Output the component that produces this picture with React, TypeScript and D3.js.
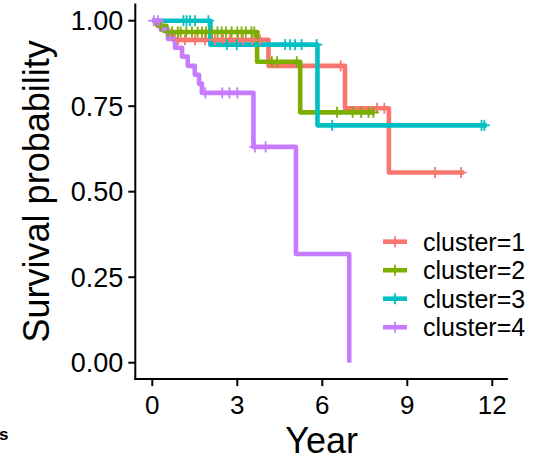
import React from "react";
import * as d3 from "d3";

// ---- data ----
const xTicks = [0, 3, 6, 9, 12];
const yTicks = [0, 0.25, 0.5, 0.75, 1];
const yTickLabels = ["0.00", "0.25", "0.50", "0.75", "1.00"];

const clusterNames = ["cluster=1", "cluster=2", "cluster=3", "cluster=4"];
const clusterColors = ["#F8766D", "#7CAE00", "#00BFC4", "#C77CFF"];

// step times and survival after each step
const cluster1Time = [0, 0.15, 0.3, 0.45, 0.6, 0.75, 4.1, 6.8, 8.35];
const cluster1Surv = [1, 0.99, 0.98, 0.97, 0.96, 0.944, 0.868, 0.744, 0.556];
const cluster1End = 11.0;
const cluster1Censor = [0.91, 1.15, 1.51, 1.86, 2.21, 2.5, 2.74, 3.03, 3.2, 3.52, 3.8, 6.65, 7.93, 8.19, 9.98, 10.9];

const cluster2Time = [0, 0.2, 0.5, 3.7, 5.22];
const cluster2Surv = [1, 0.985, 0.967, 0.88, 0.732];
const cluster2End = 7.86;
const cluster2Censor = [0.3, 0.55, 0.7, 0.9, 1.0, 1.2, 1.4, 1.6, 1.75, 1.9, 2.1, 2.3, 2.45, 2.6, 2.8, 3.0, 3.15, 3.3, 3.5, 3.6, 4.22, 4.4, 5.1, 6.52, 7.07, 7.37, 7.63, 7.8];

const cluster3Time = [0, 2.05, 5.83];
const cluster3Surv = [1, 0.93, 0.694];
const cluster3End = 11.8;
const cluster3Censor = [1.1, 1.21, 1.33, 1.51, 1.98, 2.63, 2.98, 4.69, 4.86, 5.04, 5.27, 5.8, 6.35, 11.62, 11.72];

const cluster4Time = [0, 0.3, 0.55, 0.8, 1.05, 1.25, 1.5, 1.65, 1.75, 3.57, 5.07, 6.95];
const cluster4Surv = [1, 0.974, 0.947, 0.921, 0.895, 0.868, 0.842, 0.816, 0.789, 0.631, 0.318, 0];
const cluster4End = 6.95;
const cluster4Censor = [0.05, 0.2, 1.87, 2.47, 2.72, 3.0, 3.62, 4.0];

const series = [
  { time: cluster1Time, surv: cluster1Surv, end: cluster1End, censor: cluster1Censor },
  { time: cluster2Time, surv: cluster2Surv, end: cluster2End, censor: cluster2Censor },
  { time: cluster3Time, surv: cluster3Surv, end: cluster3End, censor: cluster3Censor },
  { time: cluster4Time, surv: cluster4Surv, end: cluster4End, censor: cluster4Censor },
];

const W = 538;
const H = 462;
const font = "'Liberation Sans', Arial, Helvetica, sans-serif";

export default function App() {
  const x = d3.scaleLinear().domain([0, 12]).range([152.3, 492.3]);
  const y = d3.scaleLinear().domain([0, 1]).range([362.7, 20.7]);

  const xMin = x(-0.6);
  const xMax = x(12.55);
  const yTop = y(1.05);
  const yBottom = y(-0.048);

  const line = d3
    .line<[number, number]>()
    .x((d) => x(d[0]))
    .y((d) => y(d[1]))
    .curve(d3.curveStepAfter);

  const survAt = (s: typeof series[number], t: number) => {
    const i = d3.bisectRight(s.time, t) - 1;
    return s.surv[Math.max(0, i)];
  };

  const legendY = [241.7, 270.2, 298.7, 327.2];

  return (
    <svg
      width={W}
      height={H}
      style={{ position: "absolute", left: 0, top: 0, background: "#fff" }}
      fontFamily={font}
    >
      <rect width={W} height={H} fill="#fff" />

      {/* curves */}
      {series.map((s, i) => {
        const pts: [number, number][] = s.time.map((t, j) => [t, s.surv[j]]);
        pts.push([s.end, s.surv[s.surv.length - 1]]);
        return (
          <path
            key={"l" + i}
            d={line(pts) || ""}
            fill="none"
            stroke={clusterColors[i]}
            strokeWidth={4.6}
            strokeLinejoin="round"
          />
        );
      })}

      {/* censor marks */}
      {series.map((s, i) =>
        s.censor.map((t, j) => {
          const cx = x(t);
          const cy = y(survAt(s, t));
          return (
            <g key={"c" + i + "-" + j} stroke={clusterColors[i]} strokeWidth={1.8}>
              <line x1={cx} x2={cx} y1={cy - 5.5} y2={cy + 5.5} />
              <line x1={cx - 5.5} x2={cx + 5.5} y1={cy} y2={cy} />
            </g>
          );
        })
      )}

      {/* axes */}
      <line x1={xMin} x2={xMin} y1={yTop} y2={yBottom + 1} stroke="#000" strokeWidth={2} />
      <line x1={xMin - 1} x2={xMax} y1={yBottom} y2={yBottom} stroke="#000" strokeWidth={2} />
      {yTicks.map((v, i) => (
        <g key={"yt" + i}>
          <line x1={xMin - 7} x2={xMin} y1={y(v)} y2={y(v)} stroke="#000" strokeWidth={2} />
          <text x={xMin - 12} y={y(v)} dy="0.36em" textAnchor="end" fontSize={27} fill="#000">
            {yTickLabels[i]}
          </text>
        </g>
      ))}
      {xTicks.map((v) => (
        <g key={"xt" + v}>
          <line x1={x(v)} x2={x(v)} y1={yBottom} y2={yBottom + 7} stroke="#000" strokeWidth={2} />
          <text x={x(v)} y={414} textAnchor="middle" fontSize={26} fill="#000">
            {v}
          </text>
        </g>
      ))}

      {/* titles */}
      <text x={(xMin + xMax) / 2} y={453} textAnchor="middle" fontSize={36} fill="#000">
        Year
      </text>
      <text
        transform={`translate(49,${(yTop + yBottom) / 2}) rotate(-90)`}
        textAnchor="middle"
        fontSize={36}
        fill="#000"
      >
        Survival probability
      </text>

      {/* legend */}
      {clusterNames.map((name, i) => (
        <g key={"lg" + i}>
          <line x1={383} x2={407} y1={legendY[i]} y2={legendY[i]} stroke={clusterColors[i]} strokeWidth={4.6} />
          <line x1={395} x2={395} y1={legendY[i] - 5.5} y2={legendY[i] + 5.5} stroke={clusterColors[i]} strokeWidth={1.8} />
          <text x={423} y={legendY[i]} dy="0.36em" fontSize={25} fill="#000">
            {name}
          </text>
        </g>
      ))}

      {/* clipped stray label at bottom-left */}
      <text x={-1} y={440} fontSize={17} fontWeight="bold" fill="#000">
        s
      </text>
    </svg>
  );
}
